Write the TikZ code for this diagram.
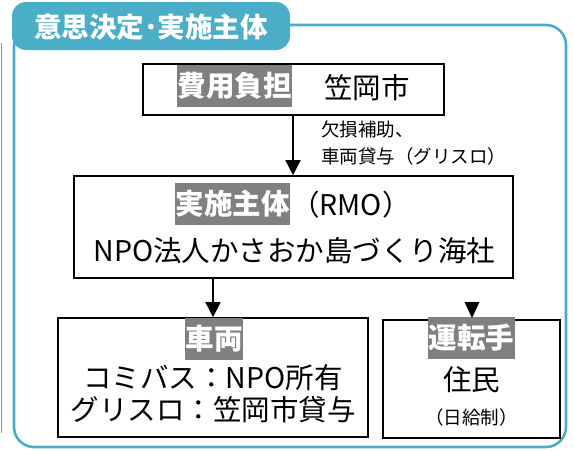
\documentclass[tikz,border=0pt]{standalone}
\usepackage{fontspec}
\setmainfont{Noto Sans CJK JP}
\usetikzlibrary{arrows.meta}
\definecolor{teal1}{HTML}{4BAEC8}
\definecolor{hl}{HTML}{808080}
\tikzset{
  bx/.style={draw=black, line width=1.6pt, fill=white},
  hlnode/.style={fill=hl, text=white, inner sep=0.5pt, minimum height=42pt, font=\fontsize{28.5}{30}\selectfont\bfseries},
  big/.style={inner sep=0pt, font=\fontsize{28.5}{30}\selectfont},
  small/.style={inner sep=0pt, font=\fontsize{18.5}{27}\selectfont},
  arr/.style={line width=1.4pt, -{Triangle[width=15pt,length=15pt]}},
}
\begin{document}
\begin{tikzpicture}[x=1pt,y=-1pt]
\useasboundingbox (0,0) rectangle (573,450);
% outer frame
\draw[teal1, line width=2.6pt, rounded corners=20pt] (14,25) rectangle (566,447);
\draw[teal1, line width=1.5pt] (1.5,43) -- (1.5,433);
\node[fill=teal1, rounded corners=14pt, minimum width=278pt, minimum height=48pt, inner sep=0pt] (tab) at (151,26) {};
\node[text=white, font=\fontsize{27.5}{30}\selectfont\bfseries, inner sep=0pt] (title) at (151,27) {意思決定･実施主体};
% box 1
\node[bx, minimum width=301pt, minimum height=51pt] (b1) at (293.5,89.5) {};
\node[hlnode, minimum width=115pt] (h1) at (234.5,86) {費用負担};
\node[big] (t1) at (367,88) {笠岡市};
% box 2
\node[bx, minimum width=439pt, minimum height=102pt] (b2) at (293.5,227) {};
\node[hlnode, minimum width=115pt] (h2) at (232.5,203.5) {実施主体};
\node[big, anchor=west] (t2a) at (291,205) {（RMO）};
\node[big] (t2b) at (294.5,251) {NPO法人かさおか島づくり海社};
% arrow 1
\coordinate (a1s) at (293,115);
\draw[arr] (a1s) -- (b2.north -| a1s);
\node[small, anchor=north west, align=left] (lab) at (321,121) {欠損補助、\\車両貸与（グリスロ）};
% box 3
\node[bx, minimum width=310pt, minimum height=119pt] (b3) at (213,377.5) {};
\node[hlnode, minimum width=58pt] (h3) at (214,339) {車両};
\node[big] (t3a) at (213,378) {コミバス：NPO所有};
\node[big] (t3b) at (213,410) {グリスロ：笠岡市貸与};
\coordinate (a2s) at (213,278);
\draw[arr] (a2s) -- (b3.north -| a2s);
% box 4
\node[bx, minimum width=177pt, minimum height=118pt] (b4) at (471.5,379) {};
\node[hlnode, minimum width=87pt] (h4) at (471.5,338) {運転手};
\node[big] (t4a) at (471.5,380) {住民};
\node[small] (t4b) at (471.5,417) {（日給制）};
\coordinate (a3t) at (472,318);
\fill[black] (a3t) -- ++(-7.5,-16) -- ++(15,0) -- cycle;
\end{tikzpicture}
\end{document}
